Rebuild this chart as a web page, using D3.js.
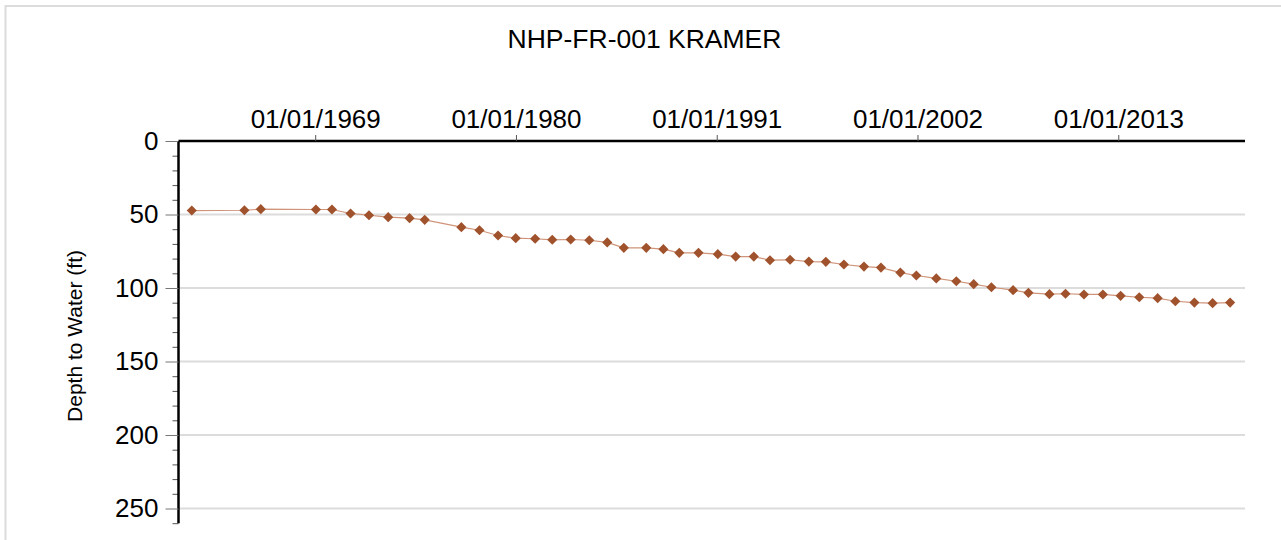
<!DOCTYPE html>
<html lang="en">

<head>
    <meta charset="UTF-8">
    <script src="https://cdn.jsdelivr.net/npm/d3@7/dist/d3.min.js" charset="utf-8"></script>
    <title>NHP-FR-001 KRAMER</title>
    <style>
        body { margin: 0; background: #fff; }
        text { font-family: "Liberation Sans", Arial, sans-serif; }
    </style>
</head>

<body>
    <script>
        var title = "NHP-FR-001 KRAMER";
        var yLabel = "Depth to Water (ft)";
        var dates = ["1962-03-29", "1965-02-14", "1966-01-08", "1969-01-15", "1969-12-02", "1970-12-09", "1971-12-13",
            "1973-01-01", "1974-03-04", "1975-01-01", "1977-01-04", "1978-01-01", "1979-01-08", "1979-12-28",
            "1981-01-19", "1981-12-28", "1983-01-01", "1984-01-08", "1985-01-01", "1985-11-29", "1987-02-21",
            "1988-01-30", "1988-12-13", "1990-01-01", "1991-01-23", "1992-01-15", "1993-01-12", "1993-12-02",
            "1995-01-08", "1996-01-19", "1996-12-24", "1997-12-20", "1999-01-26", "2000-01-01", "2001-01-23",
            "2001-12-09", "2003-01-12", "2004-02-17", "2005-01-30", "2006-01-19", "2007-03-29", "2008-01-30",
            "2009-03-25", "2010-02-10", "2011-02-14", "2012-02-28", "2013-02-17", "2014-02-25", "2015-02-28",
            "2016-02-17", "2017-03-04", "2018-03-04", "2019-02-17"];
        var depths = [47.3, 47.1, 46.4, 46.6, 46.6, 49.3, 50.5,
            51.8, 52.5, 53.6, 58.6, 60.7, 64.3, 66.1,
            66.5, 67.2, 67.0, 67.5, 69.0, 72.7, 72.7,
            73.6, 76.1, 76.1, 77.0, 78.6, 78.6, 81.1,
            80.8, 82.0, 82.2, 84.0, 85.4, 86.1, 89.5,
            91.5, 93.5, 95.4, 97.4, 99.5, 101.5, 103.3,
            104.2, 103.9, 104.4, 104.4, 105.3, 106.3, 106.9,
            109.0, 109.9, 110.3, 109.9];
        var xTickDates = ["1969-01-01", "1980-01-01", "1991-01-01", "2002-01-01", "2013-01-01"];
        var xDomain = ["1961-07-06", "2019-12-12"];
        var yTicks = [0, 50, 100, 150, 200, 250];
        var yMax = 260;

        var width = 1281;
        var height = 540;
        var plotLeft = 178.5, plotRight = 1245, plotTop = 141, plotBottom = 523.2;
        var parse = d3.timeParse("%Y-%m-%d");

        var data = dates.map(function (d, i) { return { date: parse(d), depth: depths[i] }; });

        var x = d3.scaleTime().domain(xDomain.map(parse)).range([plotLeft, plotRight]);
        var y = d3.scaleLinear().domain([0, yMax]).range([plotTop, plotBottom]);

        var svg = d3.select("body").append("svg").attr("width", width).attr("height", height);

        // frame
        svg.append("rect").attr("x", 5.5).attr("y", 6).attr("width", 1400).attr("height", 700)
            .style("fill", "none").style("stroke", "#dcdcdc").style("stroke-width", 2);

        svg.append("text").text(title).attr("x", 644.5).attr("y", 48)
            .attr("text-anchor", "middle").style("font-size", "26.5px").style("fill", "#000");

        svg.append("text").text(yLabel)
            .attr("transform", "translate(82," + 336 + ") rotate(-90)")
            .attr("text-anchor", "middle").style("font-size", "21px").style("fill", "#000");

        // gridlines
        svg.selectAll("line.grid").data(yTicks.slice(1)).enter().append("line").attr("class", "grid")
            .attr("x1", plotLeft).attr("x2", plotRight)
            .attr("y1", function (d) { return y(d); }).attr("y2", function (d) { return y(d); })
            .style("stroke", "#dcdcdc").style("stroke-width", 2);

        // minor y ticks
        var minor = d3.range(10, yMax + 1, 10).filter(function (d) { return d % 50 !== 0; });
        svg.append("g").attr("transform", "translate(" + plotLeft + ",0)")
            .call(d3.axisLeft(y).tickValues(minor).tickSize(6).tickFormat(""))
            .call(function (g) {
                g.select(".domain").remove();
                g.selectAll("line").style("stroke", "#555");
            });

        // major y ticks
        svg.append("g").attr("transform", "translate(" + plotLeft + ",0)")
            .call(d3.axisLeft(y).tickValues(yTicks).tickSize(13).tickPadding(7))
            .call(function (g) {
                g.select(".domain").attr("d", "M0," + plotTop + "V" + plotBottom).style("stroke", "#000").style("stroke-width", 2.5);
                g.selectAll("line").style("stroke", "#777");
                g.selectAll("text").style("font-size", "26px").style("fill", "#000")
                    .style("font-family", "'Liberation Sans', Arial, sans-serif");
            });

        // top date axis
        svg.append("g").attr("transform", "translate(0," + plotTop + ")")
            .call(d3.axisTop(x).tickValues(xTickDates.map(parse)).tickSize(6).tickPadding(7)
                .tickFormat(d3.timeFormat("%m/%d/%Y")))
            .call(function (g) {
                g.select(".domain").attr("d", "M" + plotLeft + ",0H" + plotRight).style("stroke", "#000").style("stroke-width", 2.5);
                g.selectAll("line").style("stroke", "#555");
                g.selectAll("text").style("font-size", "26px").style("fill", "#000")
                    .style("font-family", "'Liberation Sans', Arial, sans-serif");
            });

        var line = d3.line().x(function (d) { return x(d.date); }).y(function (d) { return y(d.depth); });
        svg.append("path").datum(data).attr("d", line)
            .style("fill", "none").style("stroke", "#cf9479").style("stroke-width", 1.2);

        svg.selectAll("path.pt").data(data).enter().append("path").attr("class", "pt")
            .attr("d", d3.symbol().type(d3.symbolDiamond2).size(66))
            .attr("transform", function (d) { return "translate(" + x(d.date) + "," + y(d.depth) + ")"; })
            .style("fill", "#a0522d");
    </script>
</body>

</html>
